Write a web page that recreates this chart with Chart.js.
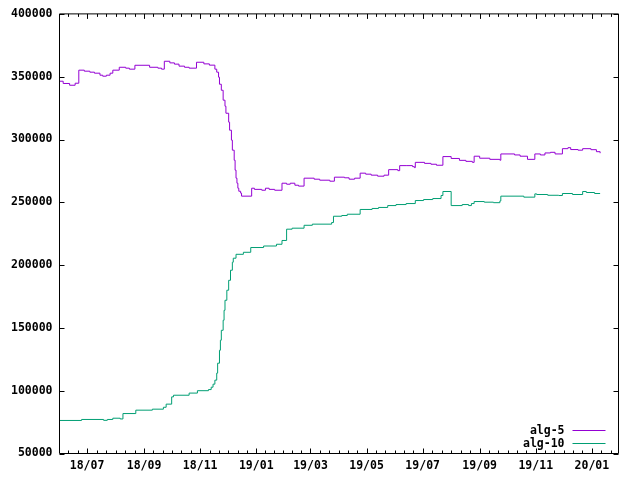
<!DOCTYPE html>
<html>
<head>
<meta charset="utf-8">
<script src="https://cdn.jsdelivr.net/npm/chart.js@4"></script>
<style>
  body { margin: 0; background: #fff; }
  canvas { display: block; }
</style>
</head>
<body>
<canvas id="algChart" width="640" height="480"></canvas>
<script>
const seriesNames = ['alg-5', 'alg-10'];

const alg5Dates = [
  '2018-06-01', '2018-06-05', '2018-06-12', '2018-06-18', '2018-06-22', '2018-06-28',
  '2018-07-04', '2018-07-09', '2018-07-15', '2018-07-18', '2018-07-22', '2018-07-26',
  '2018-07-29', '2018-08-05', '2018-08-12', '2018-08-16', '2018-08-22', '2018-09-07',
  '2018-09-16', '2018-09-20', '2018-09-23', '2018-09-29', '2018-10-04', '2018-10-09',
  '2018-10-15', '2018-10-20', '2018-10-28', '2018-11-05', '2018-11-11', '2018-11-17',
  '2018-11-19', '2018-11-21', '2018-11-22', '2018-11-24', '2018-11-26', '2018-11-28',
  '2018-11-29', '2018-12-02', '2018-12-03', '2018-12-05', '2018-12-06', '2018-12-08',
  '2018-12-09', '2018-12-10', '2018-12-11', '2018-12-12', '2018-12-13', '2018-12-15',
  '2018-12-16', '2018-12-27', '2018-12-30', '2019-01-07', '2019-01-11', '2019-01-15',
  '2019-01-21', '2019-01-29', '2019-02-03', '2019-02-07', '2019-02-12', '2019-02-16',
  '2019-02-22', '2019-03-05', '2019-03-11', '2019-03-22', '2019-03-27', '2019-04-07',
  '2019-04-12', '2019-04-18', '2019-04-24', '2019-04-30', '2019-05-06', '2019-05-13',
  '2019-05-20', '2019-05-25', '2019-06-04', '2019-06-06', '2019-06-13', '2019-06-20',
  '2019-06-22', '2019-06-23', '2019-07-03', '2019-07-10', '2019-07-16', '2019-07-23',
  '2019-08-01', '2019-08-10', '2019-08-17', '2019-08-24', '2019-08-26', '2019-09-01',
  '2019-09-12', '2019-09-23', '2019-09-24', '2019-10-04', '2019-10-09', '2019-10-15',
  '2019-10-23', '2019-10-31', '2019-11-06', '2019-11-11', '2019-11-17', '2019-11-22',
  '2019-11-30', '2019-12-06', '2019-12-09', '2019-12-17', '2019-12-22', '2019-12-31',
  '2020-01-06', '2020-01-10'
];
const alg5Values = [
  346400, 344600, 343200, 344800, 355200, 354400,
  353600, 352800, 351200, 350400, 351200, 352800,
  355200, 357500, 356800, 356000, 359100, 357500,
  356800, 356000, 362300, 361000, 360000, 358400,
  357500, 356800, 361500, 360200, 359200, 356000,
  353600, 349600, 344000, 339200, 331300, 326500,
  320900, 313800, 307400, 299500, 291500, 283500,
  275600, 269200, 265200, 261200, 258800, 257300,
  254900, 261200, 260300, 259600, 261200, 260300,
  259600, 265200, 264400, 265200, 263600, 262900,
  269200, 268400, 267600, 266800, 270000, 269500,
  268400, 269200, 273200, 272400, 271600, 270800,
  271600, 276000, 275200, 279200, 279200, 278400,
  277600, 281800, 281000, 280300, 279500, 286400,
  284900, 283400, 282600, 281800, 286700, 285100,
  284200, 283500, 288500, 288500, 287700, 286700,
  284200, 288500, 287700, 289300, 289800, 288500,
  292700, 293500, 292000, 291500, 292700, 291900,
  290300, 289100
];

const alg10Dates = [
  '2018-06-01', '2018-06-25', '2018-07-19', '2018-07-23', '2018-07-29', '2018-08-06',
  '2018-08-09', '2018-08-23', '2018-09-10', '2018-09-22', '2018-09-25', '2018-10-01',
  '2018-10-03', '2018-10-20', '2018-10-29', '2018-11-10', '2018-11-13', '2018-11-15',
  '2018-11-17', '2018-11-19', '2018-11-20', '2018-11-22', '2018-11-23', '2018-11-24',
  '2018-11-26', '2018-11-27', '2018-11-28', '2018-11-30', '2018-12-02', '2018-12-04',
  '2018-12-06', '2018-12-07', '2018-12-10', '2018-12-18', '2018-12-26', '2019-01-09',
  '2019-01-23', '2019-01-29', '2019-02-03', '2019-02-09', '2019-02-22', '2019-03-03',
  '2019-03-24', '2019-03-26', '2019-04-04', '2019-04-10', '2019-04-24', '2019-05-07',
  '2019-05-14', '2019-05-24', '2019-06-02', '2019-06-13', '2019-06-23', '2019-07-02',
  '2019-07-12', '2019-07-21', '2019-07-23', '2019-08-01', '2019-08-13', '2019-08-20',
  '2019-08-23', '2019-08-26', '2019-09-06', '2019-09-16', '2019-09-23', '2019-09-24',
  '2019-10-19', '2019-10-31', '2019-11-02', '2019-11-14', '2019-11-26', '2019-11-30',
  '2019-12-11', '2019-12-22', '2019-12-26', '2020-01-04', '2020-01-10'
];
const alg10Values = [
  76300, 77100, 76400, 77100, 78100, 77500,
  81800, 84500, 85300, 86800, 89300, 95100,
  96400, 98100, 100000, 100900, 102800, 105200,
  108400, 114000, 121900, 132200, 140200, 148100,
  156100, 164000, 172000, 180000, 187900, 195900,
  202300, 205500, 208600, 210200, 214000, 215200,
  216600, 219600, 228600, 229400, 231700, 232600,
  233900, 238900, 239500, 240500, 244300, 245100,
  245900, 247400, 248200, 249000, 251400, 252200,
  253000, 255400, 258600, 247400, 248200, 247400,
  249000, 250600, 250100, 249700, 251100, 254900,
  254100, 256700, 256200, 255600, 255400, 257000,
  256200, 258600, 257800, 257000, 257000
];

const xStart = '2018-06-01';
const xEnd = '2020-01-30';
const xTickDates = ['2018-07-01', '2018-09-01', '2018-11-01', '2019-01-01', '2019-03-01',
  '2019-05-01', '2019-07-01', '2019-09-01', '2019-11-01', '2020-01-01'];
const xTickLabels = ['18/07', '18/09', '18/11', '19/01', '19/03',
  '19/05', '19/07', '19/09', '19/11', '20/01'];
const yMin = 50000;
const yMax = 400000;
const yStep = 50000;

const seriesColors = ['#9400d3', '#009e73'];
const labelFont = { family: '"DejaVu Sans Mono", monospace', size: 11.5, weight: 'bold' };

const toPoints = (dates, values) => dates.map((d, i) => ({ x: Date.parse(d), y: values[i] }));
const tickValues = xTickDates.map(d => Date.parse(d));

// gnuplot style: closed box, inward ticks on all sides, legend bottom right
const gnuFrame = {
  id: 'gnuFrame',
  afterDatasetsDraw(chart) {
    const { ctx, chartArea: a, scales } = chart;
    const xs = scales.x, ys = scales.y;
    ctx.save();
    ctx.strokeStyle = '#000';
    ctx.lineWidth = 1;
    ctx.beginPath();
    ctx.rect(a.left, a.top, a.right - a.left, a.bottom - a.top);

    ys.ticks.forEach(t => {
      const py = Math.round(ys.getPixelForValue(t.value)) + 0.5;
      ctx.moveTo(a.left, py); ctx.lineTo(a.left + 5, py);
      ctx.moveTo(a.right, py); ctx.lineTo(a.right - 5, py);
    });

    const xTick = (v, len) => {
      const px = Math.round(xs.getPixelForValue(v)) + 0.5;
      if (px < a.left || px > a.right) return;
      ctx.moveTo(px, a.bottom); ctx.lineTo(px, a.bottom - len);
      ctx.moveTo(px, a.top); ctx.lineTo(px, a.top + len);
    };
    tickValues.forEach(v => xTick(v, 5));
    for (let i = 0; i < tickValues.length; i++) {
      const next = i + 1 < tickValues.length ? tickValues[i + 1] : null;
      const prev = i > 0 ? tickValues[i - 1] : null;
      const step = next !== null ? (next - tickValues[i]) / 6 : (tickValues[i] - prev) / 6;
      if (next !== null) {
        for (let k = 1; k < 6; k++) xTick(tickValues[i] + k * step, 3);
      } else {
        for (let v = tickValues[i] + step; v <= xs.max; v += step) xTick(v, 3);
      }
      if (i === 0) {
        for (let v = tickValues[0] - step; v >= xs.min; v -= step) xTick(v, 3);
      }
    }
    ctx.stroke();

    // legend
    ctx.font = 'bold 11.5px "DejaVu Sans Mono", monospace';
    ctx.textAlign = 'right';
    ctx.textBaseline = 'middle';
    chart.data.datasets.forEach((ds, i) => {
      const ly = a.bottom - 23 + i * 13;
      ctx.fillStyle = '#000';
      ctx.fillText(ds.label, a.right - 54, ly + 0.5);
      ctx.strokeStyle = ds.borderColor;
      ctx.beginPath();
      ctx.moveTo(a.right - 46, ly);
      ctx.lineTo(a.right - 13, ly);
      ctx.stroke();
    });
    ctx.restore();
  }
};

const ctx = document.getElementById('algChart').getContext('2d');
const algChart = new Chart(ctx, {
  type: 'line',
  data: {
    datasets: [
      { label: seriesNames[0], data: toPoints(alg5Dates, alg5Values) },
      { label: seriesNames[1], data: toPoints(alg10Dates, alg10Values) }
    ].map((ds, i) => ({
      ...ds,
      borderColor: seriesColors[i],
      backgroundColor: seriesColors[i],
      borderWidth: 1,
      pointRadius: 0,
      stepped: true,
      fill: false
    }))
  },
  options: {
    responsive: false,
    animation: false,
    events: [],
    layout: { padding: { left: 0, top: 13.5, right: 21.5, bottom: 0 } },
    plugins: { legend: { display: false }, tooltip: { enabled: false } },
    scales: {
      x: {
        type: 'linear',
        min: Date.parse(xStart),
        max: Date.parse(xEnd),
        grid: { display: false, drawTicks: false },
        border: { display: false },
        afterFit: s => { s.height = 26.5; },
        afterBuildTicks: s => { s.ticks = tickValues.map(v => ({ value: v })); },
        ticks: {
          color: '#000',
          font: labelFont,
          padding: 6,
          maxRotation: 0,
          autoSkip: false,
          callback: v => xTickLabels[tickValues.indexOf(v)]
        }
      },
      y: {
        min: yMin,
        max: yMax,
        grid: { display: false, drawTicks: false },
        border: { display: false },
        afterFit: s => { s.width = 59.5; },
        ticks: {
          stepSize: yStep,
          color: '#000',
          font: labelFont,
          padding: 7,
          callback: v => String(v)
        }
      }
    }
  },
  plugins: [gnuFrame]
});
</script>
</body>
</html>
